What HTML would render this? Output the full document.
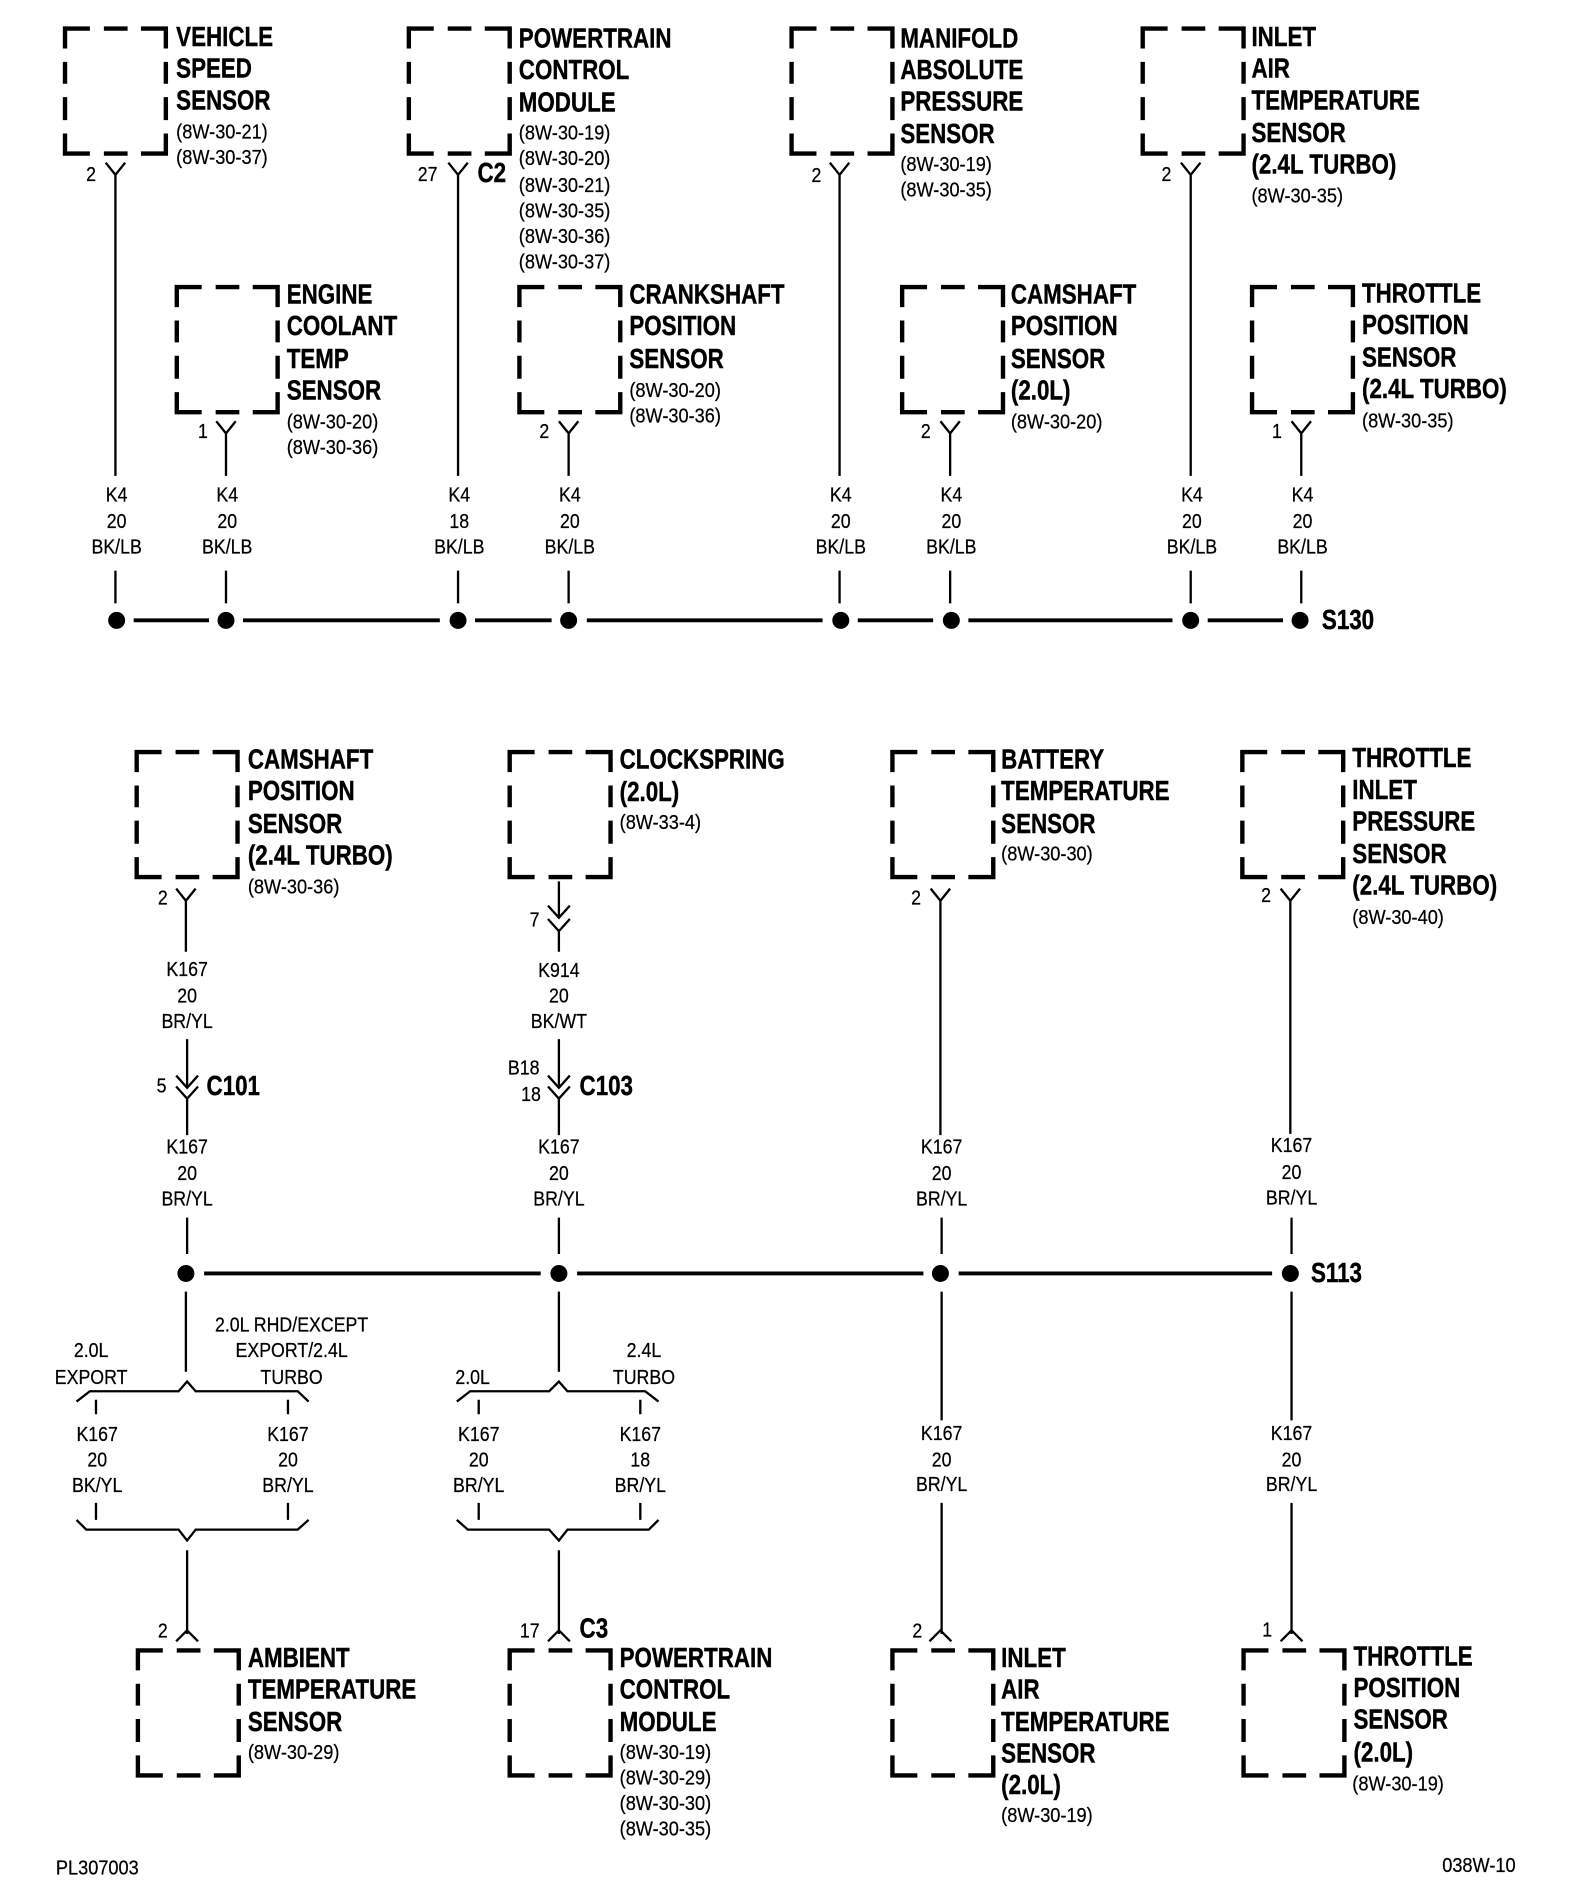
<!DOCTYPE html>
<html><head><meta charset="utf-8"><title>Diagram</title>
<style>
html,body{margin:0;padding:0;background:#fff}
svg{display:block}
text{font-family:"Liberation Sans",sans-serif;fill:#000}
.b{font-size:23px;font-weight:bold;stroke:#000;stroke-width:.35px}
.r{font-size:17px;stroke:#000;stroke-width:.2px}
.c{font-size:17px;text-anchor:middle;stroke:#000;stroke-width:.2px}
.w{fill:none;stroke:#000;stroke-width:1.9}
.k{fill:none;stroke:#000;stroke-width:3.6}
.s{fill:none;stroke:#000;stroke-width:3.2}
</style></head><body>
<svg width="1584" height="1904" viewBox="0 0 1303.7 1568.4" preserveAspectRatio="none" xmlns="http://www.w3.org/2000/svg">
<defs>
<path id="box" class="k" d="M1.5 18V1.5H22M33.5 1.5H53M64 1.5H84.5V18M84.5 29V47M84.5 58V77M84.5 88V104.5H64M53 104.5H33.5M22 104.5H1.5V88M1.5 77V58M1.5 47V29"/>
</defs>
<rect width="1305" height="1569" fill="#fff"/>
<use href="#box" x="52" y="22"/><use href="#box" x="335" y="22"/><use href="#box" x="650" y="22"/><use href="#box" x="939" y="22"/>
<use href="#box" x="144" y="235"/><use href="#box" x="426" y="235"/><use href="#box" x="741" y="235"/><use href="#box" x="1029" y="235"/>
<use href="#box" x="111" y="618"/><use href="#box" x="418" y="618"/><use href="#box" x="733" y="618"/><use href="#box" x="1021" y="618"/>
<use href="#box" x="112" y="1358"/><use href="#box" x="418" y="1358"/><use href="#box" x="733" y="1358"/><use href="#box" x="1022" y="1358"/>

<path class="w" d="M87 134L95 144L103 134M95 144V392M95 470V497
M178 347L186 357L194 347M186 357V392M186 470V497
M369 134L377 144L385 134M377 144V392M377 470V497
M460 347L468 357L476 347M468 357V392M468 470V497
M683 134L691 144L699 134M691 144V392M691 470V497
M774 347L782 357L790 347M782 357V392M782 470V497
M972 134L980 144L988 134M980 144V392M980 470V497
M1063 347L1071 357L1079 347M1071 357V392M1071 470V497"/>
<path class="s" d="M110 511H172M200 511H362M391 511H454M483 511H677M706 511H768M797 511H965M994 511H1056"/>
<g fill="#000"><ellipse cx="96" cy="511" rx="7" ry="7"/><ellipse cx="186" cy="511" rx="7" ry="7"/><ellipse cx="377" cy="511" rx="7" ry="7"/><ellipse cx="468" cy="511" rx="7" ry="7"/><ellipse cx="692" cy="511" rx="7" ry="7"/><ellipse cx="783" cy="511" rx="7" ry="7"/><ellipse cx="980" cy="511" rx="7" ry="7"/><ellipse cx="1070" cy="511" rx="7" ry="7"/></g>

<path class="w" d="M145 732L153 742L161 732M153 742V784M154 856V896M145 886L154 896L163 886M145 895L154 905L163 895M154 905V935M154 1003V1033M153 1064V1130
M460 726V756M451 746L460 756L469 746M451 757L460 767L469 757M460 767V784M460 856V896M451 886L460 896L469 886M451 895L460 905L469 895M460 905V935M460 1003V1033M460 1064V1130
M766 732L774 742L782 732M774 742V935M775 1003V1033M775 1064V1170M775 1238V1346M765 1352L774 1343L783 1352
M1054 732L1062 742L1070 732M1062 742V934M1063 1003V1033M1063 1064V1170M1063 1238V1346M1054 1352L1063 1343L1072 1352
M154 1277V1346M145 1352L154 1343L163 1352
M460 1277V1346M451 1352L460 1343L469 1352
M63 1154.5L74 1146H147L154 1138L161 1146H245L254 1154.5M79 1153V1165M237 1153V1165
M376 1154.5L387 1146H452L460 1138L467 1146H531L542 1154.5M394 1153V1165M527 1153V1165
M79 1238V1252M237 1238V1252M394 1238V1252M527 1238V1252
M63 1252L71 1260H147L154 1269L161 1260H245L254 1252
M376 1252L385 1260H452L460 1269L467 1260H534L542 1252"/>
<path class="s" d="M168 1049H445M475 1049H760M789 1049H1047"/>
<g fill="#000"><ellipse cx="153" cy="1049" rx="7" ry="7"/><ellipse cx="460" cy="1049" rx="7" ry="7"/><ellipse cx="774" cy="1049" rx="7" ry="7"/><ellipse cx="1062" cy="1049" rx="7" ry="7"/></g>

<!-- bold labels -->
<text class="b" transform="translate(145) scale(.8 1)"><tspan x="0" y="38">VEHICLE</tspan><tspan x="0" y="64">SPEED</tspan><tspan x="0" y="90">SENSOR</tspan></text>
<text class="b" transform="translate(427) scale(.8 1)"><tspan x="0" y="39">POWERTRAIN</tspan><tspan x="0" y="65">CONTROL</tspan><tspan x="0" y="92">MODULE</tspan></text>
<text class="b" transform="translate(741) scale(.8 1)"><tspan x="0" y="39">MANIFOLD</tspan><tspan x="0" y="65">ABSOLUTE</tspan><tspan x="0" y="91">PRESSURE</tspan><tspan x="0" y="118">SENSOR</tspan></text>
<text class="b" transform="translate(1030) scale(.8 1)"><tspan x="0" y="38">INLET</tspan><tspan x="0" y="64">AIR</tspan><tspan x="0" y="90">TEMPERATURE</tspan><tspan x="0" y="117">SENSOR</tspan><tspan x="0" y="143">(2.4L TURBO)</tspan></text>
<text class="b" transform="translate(236) scale(.8 1)"><tspan x="0" y="250">ENGINE</tspan><tspan x="0" y="276">COOLANT</tspan><tspan x="0" y="303">TEMP</tspan><tspan x="0" y="329">SENSOR</tspan></text>
<text class="b" transform="translate(518) scale(.8 1)"><tspan x="0" y="250">CRANKSHAFT</tspan><tspan x="0" y="276">POSITION</tspan><tspan x="0" y="303">SENSOR</tspan></text>
<text class="b" transform="translate(832) scale(.8 1)"><tspan x="0" y="250">CAMSHAFT</tspan><tspan x="0" y="276">POSITION</tspan><tspan x="0" y="303">SENSOR</tspan><tspan x="0" y="329">(2.0L)</tspan></text>
<text class="b" transform="translate(1121) scale(.8 1)"><tspan x="0" y="249">THROTTLE</tspan><tspan x="0" y="275">POSITION</tspan><tspan x="0" y="302">SENSOR</tspan><tspan x="0" y="328">(2.4L TURBO)</tspan></text>
<text class="b" transform="translate(204) scale(.8 1)"><tspan x="0" y="633">CAMSHAFT</tspan><tspan x="0" y="659">POSITION</tspan><tspan x="0" y="686">SENSOR</tspan><tspan x="0" y="712">(2.4L TURBO)</tspan></text>
<text class="b" transform="translate(510) scale(.8 1)"><tspan x="0" y="633">CLOCKSPRING</tspan><tspan x="0" y="660">(2.0L)</tspan></text>
<text class="b" transform="translate(824) scale(.8 1)"><tspan x="0" y="633">BATTERY</tspan><tspan x="0" y="659">TEMPERATURE</tspan><tspan x="0" y="686">SENSOR</tspan></text>
<text class="b" transform="translate(1113) scale(.8 1)"><tspan x="0" y="632">THROTTLE</tspan><tspan x="0" y="658">INLET</tspan><tspan x="0" y="684">PRESSURE</tspan><tspan x="0" y="711">SENSOR</tspan><tspan x="0" y="737">(2.4L TURBO)</tspan></text>
<text class="b" transform="translate(204) scale(.8 1)"><tspan x="0" y="1373">AMBIENT</tspan><tspan x="0" y="1399">TEMPERATURE</tspan><tspan x="0" y="1426">SENSOR</tspan></text>
<text class="b" transform="translate(510) scale(.8 1)"><tspan x="0" y="1373">POWERTRAIN</tspan><tspan x="0" y="1399">CONTROL</tspan><tspan x="0" y="1426">MODULE</tspan></text>
<text class="b" transform="translate(824) scale(.8 1)"><tspan x="0" y="1373">INLET</tspan><tspan x="0" y="1399">AIR</tspan><tspan x="0" y="1426">TEMPERATURE</tspan><tspan x="0" y="1452">SENSOR</tspan><tspan x="0" y="1478">(2.0L)</tspan></text>
<text class="b" transform="translate(1114) scale(.8 1)"><tspan x="0" y="1372">THROTTLE</tspan><tspan x="0" y="1398">POSITION</tspan><tspan x="0" y="1424">SENSOR</tspan><tspan x="0" y="1451">(2.0L)</tspan></text>
<text class="b" transform="translate(393) scale(.8 1)" y="150">C2</text>
<text class="b" transform="translate(477) scale(.8 1)" y="1349">C3</text>
<text class="b" transform="translate(170) scale(.8 1)" y="902">C101</text>
<text class="b" transform="translate(477) scale(.8 1)" y="902">C103</text>
<text class="b" transform="translate(1088) scale(.8 1)" y="518">S130</text>
<text class="b" transform="translate(1079) scale(.8 1)" y="1056">S113</text>

<!-- references -->
<text class="r" transform="translate(145) scale(.88 1)"><tspan x="0" y="114">(8W-30-21)</tspan><tspan x="0" y="135">(8W-30-37)</tspan></text>
<text class="r" transform="translate(427) scale(.88 1)"><tspan x="0" y="115">(8W-30-19)</tspan><tspan x="0" y="136">(8W-30-20)</tspan><tspan x="0" y="158">(8W-30-21)</tspan><tspan x="0" y="179">(8W-30-35)</tspan><tspan x="0" y="200">(8W-30-36)</tspan><tspan x="0" y="221">(8W-30-37)</tspan></text>
<text class="r" transform="translate(741) scale(.88 1)"><tspan x="0" y="141">(8W-30-19)</tspan><tspan x="0" y="162">(8W-30-35)</tspan></text>
<text class="r" transform="translate(1030) scale(.88 1)" y="167">(8W-30-35)</text>
<text class="r" transform="translate(236) scale(.88 1)"><tspan x="0" y="353">(8W-30-20)</tspan><tspan x="0" y="374">(8W-30-36)</tspan></text>
<text class="r" transform="translate(518) scale(.88 1)"><tspan x="0" y="327">(8W-30-20)</tspan><tspan x="0" y="348">(8W-30-36)</tspan></text>
<text class="r" transform="translate(832) scale(.88 1)" y="353">(8W-30-20)</text>
<text class="r" transform="translate(1121) scale(.88 1)" y="352">(8W-30-35)</text>
<text class="r" transform="translate(204) scale(.88 1)" y="736">(8W-30-36)</text>
<text class="r" transform="translate(510) scale(.88 1)" y="683">(8W-33-4)</text>
<text class="r" transform="translate(824) scale(.88 1)" y="709">(8W-30-30)</text>
<text class="r" transform="translate(1113) scale(.88 1)" y="761">(8W-30-40)</text>
<text class="r" transform="translate(204) scale(.88 1)" y="1449">(8W-30-29)</text>
<text class="r" transform="translate(510) scale(.88 1)"><tspan x="0" y="1449">(8W-30-19)</tspan><tspan x="0" y="1470">(8W-30-29)</tspan><tspan x="0" y="1491">(8W-30-30)</tspan><tspan x="0" y="1512">(8W-30-35)</tspan></text>
<text class="r" transform="translate(824) scale(.88 1)" y="1501">(8W-30-19)</text>
<text class="r" transform="translate(1113) scale(.88 1)" y="1475">(8W-30-19)</text>

<!-- wire labels -->
<text class="c" transform="translate(96) scale(.86 1)"><tspan x="0" y="413">K4</tspan><tspan x="0" y="435">20</tspan><tspan x="0" y="456">BK/LB</tspan></text>
<text class="c" transform="translate(187) scale(.86 1)"><tspan x="0" y="413">K4</tspan><tspan x="0" y="435">20</tspan><tspan x="0" y="456">BK/LB</tspan></text>
<text class="c" transform="translate(378) scale(.86 1)"><tspan x="0" y="413">K4</tspan><tspan x="0" y="435">18</tspan><tspan x="0" y="456">BK/LB</tspan></text>
<text class="c" transform="translate(469) scale(.86 1)"><tspan x="0" y="413">K4</tspan><tspan x="0" y="435">20</tspan><tspan x="0" y="456">BK/LB</tspan></text>
<text class="c" transform="translate(692) scale(.86 1)"><tspan x="0" y="413">K4</tspan><tspan x="0" y="435">20</tspan><tspan x="0" y="456">BK/LB</tspan></text>
<text class="c" transform="translate(783) scale(.86 1)"><tspan x="0" y="413">K4</tspan><tspan x="0" y="435">20</tspan><tspan x="0" y="456">BK/LB</tspan></text>
<text class="c" transform="translate(981) scale(.86 1)"><tspan x="0" y="413">K4</tspan><tspan x="0" y="435">20</tspan><tspan x="0" y="456">BK/LB</tspan></text>
<text class="c" transform="translate(1072) scale(.86 1)"><tspan x="0" y="413">K4</tspan><tspan x="0" y="435">20</tspan><tspan x="0" y="456">BK/LB</tspan></text>

<text class="c" transform="translate(154) scale(.86 1)"><tspan x="0" y="804">K167</tspan><tspan x="0" y="826">20</tspan><tspan x="0" y="847">BR/YL</tspan><tspan x="0" y="950">K167</tspan><tspan x="0" y="972">20</tspan><tspan x="0" y="993">BR/YL</tspan></text>
<text class="c" transform="translate(460) scale(.86 1)"><tspan x="0" y="805">K914</tspan><tspan x="0" y="826">20</tspan><tspan x="0" y="847">BK/WT</tspan><tspan x="0" y="950">K167</tspan><tspan x="0" y="972">20</tspan><tspan x="0" y="993">BR/YL</tspan></text>
<text class="c" transform="translate(775) scale(.86 1)"><tspan x="0" y="950">K167</tspan><tspan x="0" y="972">20</tspan><tspan x="0" y="993">BR/YL</tspan><tspan x="0" y="1186">K167</tspan><tspan x="0" y="1208">20</tspan><tspan x="0" y="1228">BR/YL</tspan></text>
<text class="c" transform="translate(1063) scale(.86 1)"><tspan x="0" y="949">K167</tspan><tspan x="0" y="971">20</tspan><tspan x="0" y="992">BR/YL</tspan><tspan x="0" y="1186">K167</tspan><tspan x="0" y="1208">20</tspan><tspan x="0" y="1228">BR/YL</tspan></text>
<text class="c" transform="translate(80) scale(.86 1)"><tspan x="0" y="1187">K167</tspan><tspan x="0" y="1208">20</tspan><tspan x="0" y="1229">BK/YL</tspan></text>
<text class="c" transform="translate(237) scale(.86 1)"><tspan x="0" y="1187">K167</tspan><tspan x="0" y="1208">20</tspan><tspan x="0" y="1229">BR/YL</tspan></text>
<text class="c" transform="translate(394) scale(.86 1)"><tspan x="0" y="1187">K167</tspan><tspan x="0" y="1208">20</tspan><tspan x="0" y="1229">BR/YL</tspan></text>
<text class="c" transform="translate(527) scale(.86 1)"><tspan x="0" y="1187">K167</tspan><tspan x="0" y="1208">18</tspan><tspan x="0" y="1229">BR/YL</tspan></text>

<text class="c" transform="translate(75) scale(.86 1)"><tspan x="0" y="1118">2.0L</tspan><tspan x="0" y="1140">EXPORT</tspan></text>
<text class="c" transform="translate(240) scale(.86 1)"><tspan x="0" y="1097">2.0L RHD/EXCEPT</tspan><tspan x="0" y="1118">EXPORT/2.4L</tspan><tspan x="0" y="1140">TURBO</tspan></text>
<text class="c" transform="translate(389) scale(.86 1)" y="1140">2.0L</text>
<text class="c" transform="translate(530) scale(.86 1)"><tspan x="0" y="1118">2.4L</tspan><tspan x="0" y="1140">TURBO</tspan></text>

<!-- pin numbers -->
<text class="c" transform="translate(75) scale(.86 1)" y="149">2</text>
<text class="c" transform="translate(352) scale(.86 1)" y="149">27</text>
<text class="c" transform="translate(672) scale(.86 1)" y="150">2</text>
<text class="c" transform="translate(960) scale(.86 1)" y="149">2</text>
<text class="c" transform="translate(167) scale(.86 1)" y="361">1</text>
<text class="c" transform="translate(448) scale(.86 1)" y="361">2</text>
<text class="c" transform="translate(762) scale(.86 1)" y="361">2</text>
<text class="c" transform="translate(1051) scale(.86 1)" y="361">1</text>
<text class="c" transform="translate(134) scale(.86 1)" y="745">2</text>
<text class="c" transform="translate(440) scale(.86 1)" y="763">7</text>
<text class="c" transform="translate(754) scale(.86 1)" y="745">2</text>
<text class="c" transform="translate(1042) scale(.86 1)" y="743">2</text>
<text class="c" transform="translate(133) scale(.86 1)" y="900">5</text>
<text class="c" transform="translate(431) scale(.86 1)" y="885">B18</text>
<text class="c" transform="translate(437) scale(.86 1)" y="907">18</text>
<text class="c" transform="translate(134) scale(.86 1)" y="1349">2</text>
<text class="c" transform="translate(436) scale(.86 1)" y="1349">17</text>
<text class="c" transform="translate(755) scale(.86 1)" y="1349">2</text>
<text class="c" transform="translate(1043) scale(.86 1)" y="1348">1</text>

<text class="r" transform="translate(46) scale(.88 1)" y="1544">PL307003</text>
<text class="r" transform="translate(1187) scale(.88 1)" y="1542">038W-10</text>
</svg>
</body></html>
